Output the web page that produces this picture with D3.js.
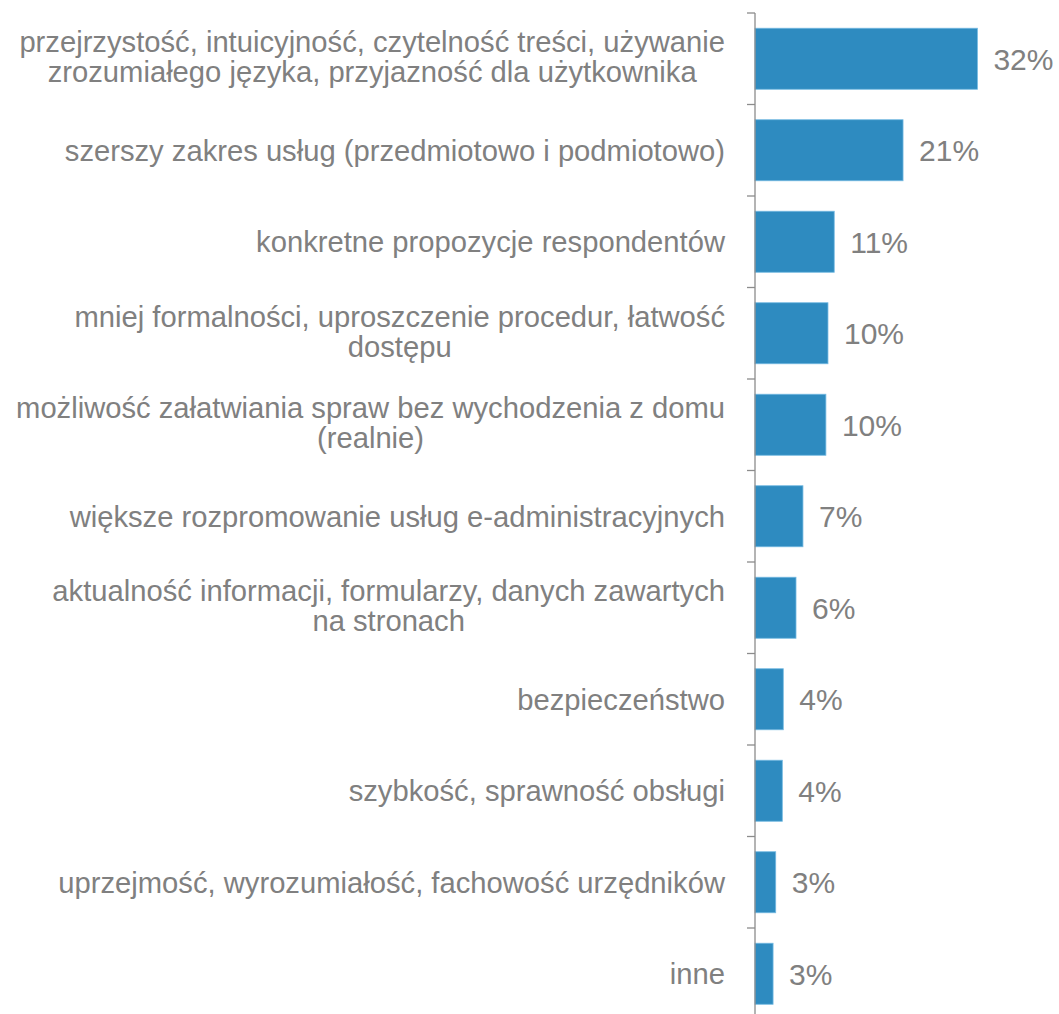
<!DOCTYPE html>
<html>
<head>
<meta charset="utf-8">
<script src="https://cdn.jsdelivr.net/npm/d3@7"></script>
<style>
  html, body { margin: 0; padding: 0; background: #fff; }
  svg { display: block; font-family: "Liberation Sans", Arial, sans-serif; }
</style>
</head>
<body>
<svg id="chart" width="1059" height="1014"></svg>
<script>
// ---- data ----
const categories = [
  ["przejrzystość, intuicyjność, czytelność treści, używanie", "zrozumiałego języka, przyjazność dla użytkownika"],
  ["szerszy zakres usług (przedmiotowo i podmiotowo)"],
  ["konkretne propozycje respondentów"],
  ["mniej formalności, uproszczenie procedur, łatwość", "dostępu"],
  ["możliwość załatwiania spraw bez wychodzenia z domu", "(realnie)"],
  ["większe rozpromowanie usług e-administracyjnych"],
  ["aktualność informacji, formularzy, danych zawartych", "na stronach"],
  ["bezpieczeństwo"],
  ["szybkość, sprawność obsługi"],
  ["uprzejmość, wyrozumiałość, fachowość urzędników"],
  ["inne"]
];
const values = [32, 21.3, 11.4, 10.5, 10.2, 6.9, 5.9, 4.07, 3.93, 2.98, 2.6];
const valueLabels = ["32%", "21%", "11%", "10%", "10%", "7%", "6%", "4%", "4%", "3%", "3%"];

// ---- layout ----
const svg = d3.select("#chart");
const axisX = 755;
const plotTop = 13, band = 91.5;
const ids = d3.range(categories.length);

const x = d3.scaleLinear().domain([0, 35]).range([axisX, axisX + 35 * 6.95]);
const y = d3.scaleBand().domain(ids).range([plotTop, plotTop + band * ids.length]).paddingInner(0.333).paddingOuter(0.1665);

const textColor = "#808080";
const catFont = 29.2;
const valFont = 30;

// bars
svg.append("g").selectAll("rect").data(values).join("rect")
  .attr("x", x(0))
  .attr("y", (d, i) => y(i))
  .attr("width", d => x(d) - x(0))
  .attr("height", y.bandwidth())
  .attr("fill", "#2e8bc0")
  .attr("stroke", "#74b9e2")
  .attr("stroke-width", 0.8);

// axis line and ticks
const axisG = svg.append("g").attr("stroke", "#8c8c8c").attr("stroke-width", 1.3);
axisG.append("line")
  .attr("x1", axisX).attr("x2", axisX)
  .attr("y1", plotTop).attr("y2", plotTop + band * ids.length);
const tickPos = d3.range(ids.length + 1).map(i => plotTop + band * i);
axisG.selectAll("line.tick").data(tickPos).join("line").attr("class", "tick")
  .attr("x1", axisX - 8).attr("x2", axisX)
  .attr("y1", d => d).attr("y2", d => d);

// category labels
const labelRight = 725;
const lineH = 30;
const catG = svg.append("g").attr("fill", textColor).attr("font-size", catFont);
categories.forEach((lines, i) => {
  const cy = y(i) + y.bandwidth() / 2 - (lines.length > 1 ? 2 : 0);
  const t = catG.append("text").attr("text-anchor", "middle");
  const tsp = lines.map((ln, k) => t.append("tspan")
    .attr("y", cy + (k - (lines.length - 1) / 2) * lineH)
    .attr("dy", "0.36em")
    .text(ln));
  const maxW = d3.max(tsp, s => s.node().getComputedTextLength());
  tsp.forEach(s => s.attr("x", labelRight - maxW / 2));
});

// value labels
svg.append("g").selectAll("text").data(values).join("text")
  .attr("x", d => x(d) + 16)
  .attr("y", (d, i) => y(i) + y.bandwidth() / 2)
  .attr("dy", "0.36em")
  .attr("fill", textColor)
  .attr("font-size", valFont)
  .text((d, i) => valueLabels[i]);
</script>
</body>
</html>
